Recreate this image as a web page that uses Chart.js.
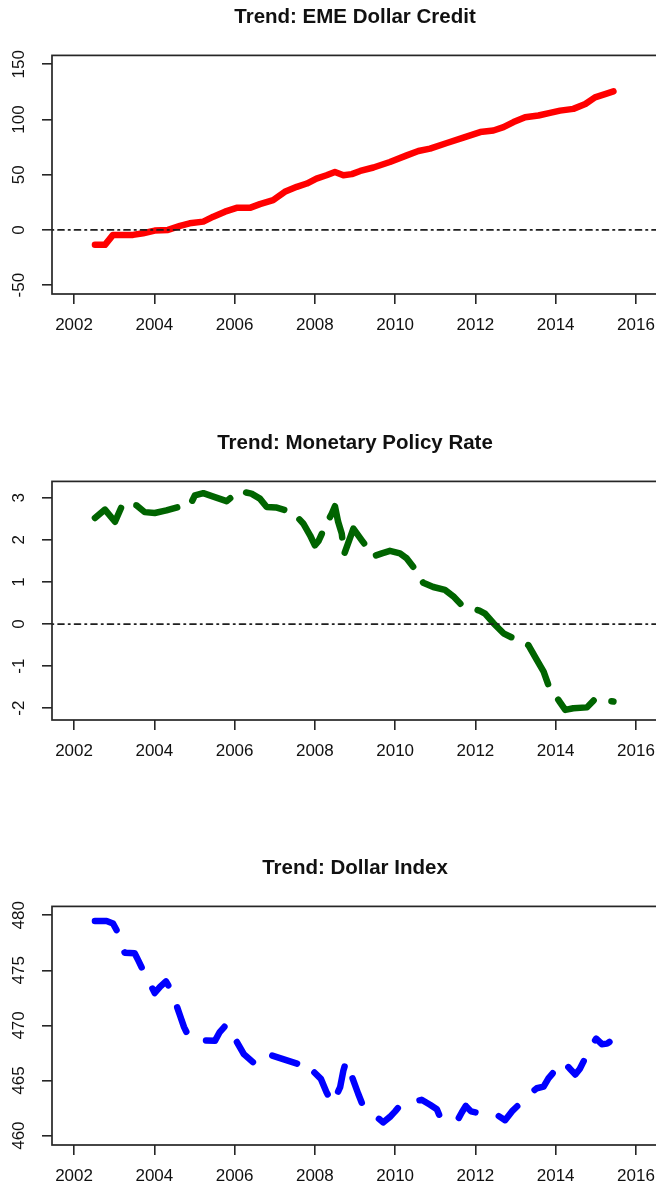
<!DOCTYPE html>
<html>
<head>
<meta charset="utf-8">
<title>Trends</title>
<script src="https://cdn.jsdelivr.net/npm/chart.js@4.4.1/dist/chart.umd.min.js"></script>
<style>
  html, body { margin: 0; padding: 0; background: #fff; overflow: hidden; }
  body { width: 656px; height: 1187px; position: relative; }
  canvas { position: absolute; left: 0; }
</style>
</head>
<body>
<canvas id="credit" width="700" height="345" style="top:0px"></canvas>
<canvas id="rate" width="700" height="345" style="top:426px"></canvas>
<canvas id="dollar" width="700" height="345" style="top:851px"></canvas>
<script>
const xTicks = [2002, 2004, 2006, 2008, 2010, 2012, 2014, 2016];

const creditYears = [2002.52, 2002.77, 2002.97, 2003.47, 2003.72, 2004.01, 2004.34, 2004.64, 2004.88, 2005.22,
    2005.47, 2005.76, 2006.05, 2006.38, 2006.63, 2006.96, 2007.25, 2007.55, 2007.80, 2008.04,
    2008.29, 2008.50, 2008.71, 2008.92, 2009.13, 2009.46, 2009.87, 2010.29, 2010.58, 2010.87,
    2011.29, 2011.70, 2012.12, 2012.45, 2012.70, 2012.95, 2013.24, 2013.57, 2013.86, 2014.11,
    2014.44, 2014.74, 2014.98, 2015.23, 2015.44];
const creditValues = [-13.5, -13.5, -4.5, -4.5, -3, -0.6, 0, 3.6, 6, 7.5,
    12, 16.5, 20, 20, 23.4, 27, 34.5, 39, 42, 46.5,
    49.5, 52.5, 49.5, 50.5, 53.4, 56.5, 61.5, 67.5, 71.5, 73.6,
    78.7, 83.5, 88.6, 90, 93, 97.6, 102, 103.6, 106, 108,
    109.6, 114, 120, 123, 125.5];
const creditTicks = [-50, 0, 50, 100, 150];

const rateYears = [2002.52, 2002.77, 2003.02, 2003.22, 2003.56, 2003.76, 2004.01, 2004.30, 2004.59, 2004.88,
    2005.01, 2005.22, 2005.47, 2005.80, 2006.11, 2006.42, 2006.63, 2006.80, 2007.03, 2007.46,
    2007.71, 2007.88, 2008.00, 2008.09, 2008.29, 2008.42, 2008.50, 2008.58, 2008.67, 2008.73,
    2008.96, 2009.17, 2009.46, 2009.67, 2009.87, 2010.12, 2010.29, 2010.45, 2010.70, 2010.95,
    2011.24, 2011.45, 2011.66, 2012.10, 2012.24, 2012.45, 2012.70, 2012.91, 2013.32, 2013.53,
    2013.70, 2013.82, 2014.11, 2014.24, 2014.44, 2014.78, 2014.98, 2015.44];
const rateValues = [2.52, 2.72, 2.43, 2.87, 2.82, 2.66, 2.64, 2.70, 2.78, 2.80,
    3.06, 3.11, 3.03, 2.92, 3.16, 3.10, 2.98, 2.78, 2.77, 2.65,
    2.39, 2.11, 1.87, 1.97, 2.39, 2.62, 2.80, 2.43, 2.15, 1.66,
    2.27, 1.99, 1.61, 1.68, 1.74, 1.68, 1.56, 1.36, 0.98, 0.88,
    0.81, 0.66, 0.45, 0.32, 0.25, 0.02, -0.22, -0.32, -0.50, -0.85,
    -1.13, -1.45, -1.86, -2.04, -2.0, -1.98, -1.78, -1.84];
const rateTicks = [-2, -1, 0, 1, 2, 3];

const dollarYears = [2002.52, 2002.81, 2002.97, 2003.06, 2003.26, 2003.51, 2003.60, 2003.72, 2004.01, 2004.14,
    2004.29, 2004.43, 2004.64, 2004.74, 2004.84, 2004.95, 2005.51, 2005.63, 2005.80, 2005.90,
    2006.23, 2006.51, 2006.82, 2007.42, 2007.59, 2007.75, 2007.90, 2008.15, 2008.29, 2008.44,
    2008.63, 2008.71, 2008.78, 2008.96, 2009.08, 2009.19, 2009.70, 2009.87, 2010.00, 2010.14,
    2010.66, 2010.87, 2011.04, 2011.12, 2011.54, 2011.66, 2011.76, 2011.89, 2012.41, 2012.57,
    2012.74, 2012.91, 2013.38, 2013.53, 2013.70, 2013.82, 2014.18, 2014.36, 2014.49, 2014.60,
    2014.90, 2015.01, 2015.15, 2015.28, 2015.34];
const dollarValues = [479.48, 479.48, 479.25, 478.64, 476.6, 476.55, 475.9, 475.0, 472.94, 473.5,
    474.0, 473.1, 470.9, 469.85, 469.1, 468.7, 468.6, 469.4, 470.1, 469.5,
    467.4, 466.5, 467.4, 466.7, 466.5, 465.75, 466.05, 465.15, 463.94, 462.9,
    464.4, 465.9, 466.75, 465.0, 463.8, 462.8, 461.2, 461.7, 462.2, 462.8,
    463.25, 462.8, 462.4, 461.7, 461.3, 462.1, 462.7, 462.2, 461.8, 461.8,
    461.4, 462.2, 463.85, 464.3, 464.45, 465.2, 466.75, 466.05, 465.55, 466.05,
    468.2, 468.8, 468.3, 468.35, 468.5];
const dollarTicks = [460, 465, 470, 475, 480];

const family = '"Liberation Sans", Arial, sans-serif';

// box round the plot, dot-dash zero line and rotated y labels
const frame = {
    id: 'frame',
    afterDatasetsDraw(chart, args, opts) {
        const { ctx, chartArea: a, scales: { y } } = chart;
        if (opts.zero) {
            const py = y.getPixelForValue(0);
            ctx.save();
            ctx.beginPath();
            ctx.rect(a.left, a.top, a.width, a.height);
            ctx.clip();
            ctx.strokeStyle = '#1e1e1e';
            ctx.lineWidth = 1.7;
            ctx.lineCap = 'round';
            ctx.setLineDash([1.5, 4.5, 6, 4.5]);
            ctx.beginPath();
            ctx.moveTo(a.left, py);
            ctx.lineTo(a.right, py);
            ctx.stroke();
            ctx.restore();
        }
        ctx.save();
        ctx.strokeStyle = '#262626';
        ctx.lineWidth = 1.7;
        ctx.strokeRect(a.left, a.top, a.width, a.height);
        ctx.fillStyle = '#111';
        ctx.font = '17px ' + family;
        ctx.textAlign = 'center';
        ctx.textBaseline = 'middle';
        for (const t of y.ticks) {
            ctx.save();
            ctx.translate(a.left - 33, y.getPixelForValue(t.value));
            ctx.rotate(-Math.PI / 2);
            ctx.fillText(String(t.value), 0, 0);
            ctx.restore();
        }
        ctx.restore();
    }
};

function trendChart(id, title, years, values, color, dash, yMin, yMax, yTicks) {
    const grid = { drawOnChartArea: false, drawTicks: true, tickLength: 10, color: '#262626', lineWidth: 1.6 };
    return new Chart(document.getElementById(id), {
        type: 'line',
        data: {
            datasets: [{
                data: years.map((x, i) => ({ x: x, y: values[i] })),
                borderColor: color,
                borderWidth: 6.5,
                borderDash: dash,
                borderCapStyle: 'round',
                borderJoinStyle: 'round',
                pointRadius: 0,
                tension: 0,
                fill: false
            }]
        },
        options: {
            responsive: false,
            animation: false,
            events: [],
            layout: { padding: { left: 0, right: 42, top: 0, bottom: 0 } },
            plugins: {
                legend: { display: false },
                tooltip: { enabled: false },
                title: {
                    display: true,
                    text: title,
                    fullSize: false,
                    color: '#111',
                    font: { family: family, size: 20.5, weight: 'bold', lineHeight: 1.2 },
                    padding: { top: 4.7, bottom: 26.1 }
                },
                frame: { zero: true }
            },
            scales: {
                x: {
                    type: 'linear',
                    min: 2001.45,
                    max: 2016.55,
                    afterBuildTicks: s => { s.ticks = xTicks.map(v => ({ value: v })); },
                    afterFit: s => { s.height = 51; },
                    grid: grid,
                    border: { display: false },
                    ticks: {
                        color: '#111',
                        font: { family: family, size: 17 },
                        padding: 11.3,
                        maxRotation: 0,
                        autoSkip: false,
                        callback: v => String(v)
                    }
                },
                y: {
                    type: 'linear',
                    min: yMin,
                    max: yMax,
                    afterBuildTicks: s => { s.ticks = yTicks.map(v => ({ value: v })); },
                    afterFit: s => { s.width = 52; },
                    grid: grid,
                    border: { display: false },
                    ticks: { display: false }
                }
            }
        },
        plugins: [frame]
    });
}

trendChart('credit', 'Trend: EME Dollar Credit', creditYears, creditValues, '#ff0000', [], -58, 158, creditTicks);
trendChart('rate', 'Trend: Monetary Policy Rate', rateYears, rateValues, '#006400', [44, 18.6], -2.28, 3.39, rateTicks);
trendChart('dollar', 'Trend: Dollar Index', dollarYears, dollarValues, '#0000ff', [26, 23.8], 459.15, 480.8, dollarTicks);
</script>
</body>
</html>
